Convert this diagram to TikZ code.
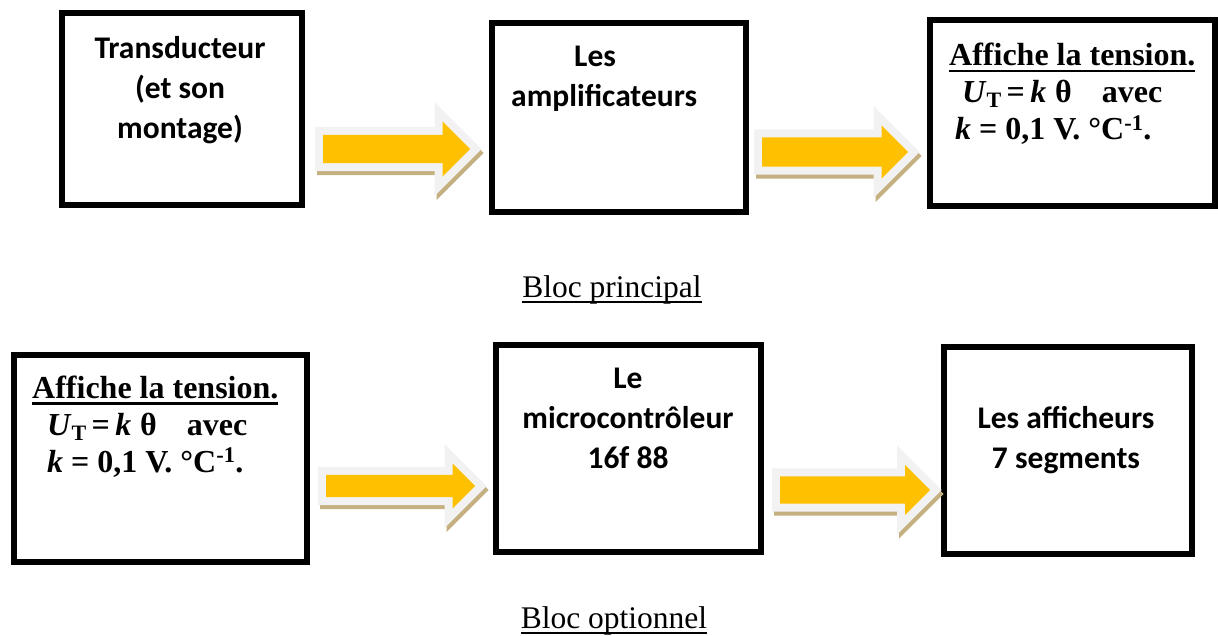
\documentclass[tikz,border=0pt]{standalone}
\usepackage{fontspec}
\setmainfont{Liberation Serif}
\newfontfamily\calibri{Carlito}
\usetikzlibrary{shapes.arrows,shadows}
\definecolor{arrowyellow}{RGB}{255,192,0}
\definecolor{glowgray}{RGB}{242,242,242}
\definecolor{shadowtan}{RGB}{196,176,128}
% underline with a rule of given depth and thickness
\newcommand{\ulined}[3]{\setbox0\hbox{#3}\rlap{\rule[#1]{\wd0}{#2}}\box0}
\newcommand{\utline}{\textit{U}{\fontsize{22}{22}\selectfont\raisebox{-5pt}{T}}\,=\,\textit{k}\;θ\hspace{30pt}avec}
\newcommand{\kline}{\textit{k} = 0,1 V. °C\textsuperscript{-1}.}

\begin{document}
\begin{tikzpicture}[x=1pt, y=-1pt,
    block/.style={draw, line width=6pt},
    blocktext/.style={font=\calibri\bfseries\fontsize{31.5}{40}\selectfont, align=center, inner sep=0pt},
    formula/.style={font=\bfseries\fontsize{32}{37}\selectfont, align=left, inner sep=0pt},
    caption/.style={font=\fontsize{31.5}{36}\selectfont, inner sep=0pt},
    flow/.style={single arrow, single arrow head extend=#1, inner xsep=0pt,
      text height=0pt, text depth=0pt, anchor=tail, fill=arrowyellow,
      general shadow={shadow xshift=2pt, shadow yshift=-4pt, fill=shadowtan, draw=shadowtan, line width=16pt},
      preaction={draw=glowgray, line width=16pt}}]
  \useasboundingbox (0,0) rectangle (1218,635);
  % bloc principal (text nodes are placed by the baseline of their last line)
  \node[block, minimum width=240.5pt, minimum height=192pt] (trans) at (181.75,109) {};
  \node[block, minimum width=254pt, minimum height=189pt] (ampli) at (619,117) {};
  \node[block, minimum width=285pt, minimum height=186.5pt] (affich) at (1072.5,112.75) {};
  \node[blocktext, anchor=base] at ([xshift=-1.75pt, yshift=-128pt]trans.north) {Transducteur\\(et son\\montage)};
  \node[blocktext, align=left, anchor=base west] at ([xshift=22pt, yshift=-86.5pt]ampli.north west) {\hspace*{63pt}Les\\amplificateurs};
  \node[formula, anchor=base west] at ([xshift=22pt, yshift=-123pt]affich.north west)
    {\ulined{-6.5pt}{2.5pt}{Affiche la tension.}\\\hspace*{13pt}\utline\\\hspace*{6pt}\kline};
  \node[flow=13.5pt, minimum height=147pt, inner ysep=14pt] (a1) at (323,149) {};
  \node[flow=12pt, minimum height=146pt, inner ysep=14.5pt] (a2) at (762,152) {};
  \node[caption, anchor=base] (princ) at (612,297) {\ulined{-6pt}{2pt}{Bloc principal}};
  % bloc optionnel
  \node[block, minimum width=293pt, minimum height=206.5pt] (affopt) at (160,458.25) {};
  \node[block, minimum width=265pt, minimum height=206.5pt] (micro) at (628,448.25) {};
  \node[block, minimum width=248pt, minimum height=207pt] (segs) at (1067.5,450) {};
  \node[formula, anchor=base west] at ([xshift=21.5pt, yshift=-120pt]affopt.north west)
    {\ulined{-6.5pt}{2.5pt}{Affiche la tension.}\\\hspace*{15pt}\utline\\\hspace*{15pt}\kline};
  \node[blocktext, anchor=base] at ([yshift=-126pt]micro.north) {Le\\microcontrôleur\\16f 88};
  \node[blocktext, anchor=base] at ([xshift=-1.5pt, yshift=-124.5pt]segs.north) {Les afficheurs\\7 segments};
  \node[flow=11.5pt, minimum height=149pt, inner ysep=11pt] (a3) at (326,486) {};
  \node[flow=11.5pt, minimum height=150pt, inner ysep=13.5pt] (a4) at (780,490) {};
  \node[caption, anchor=base] (opt) at (614,628) {\ulined{-6pt}{2pt}{Bloc optionnel}};
\end{tikzpicture}
\end{document}
